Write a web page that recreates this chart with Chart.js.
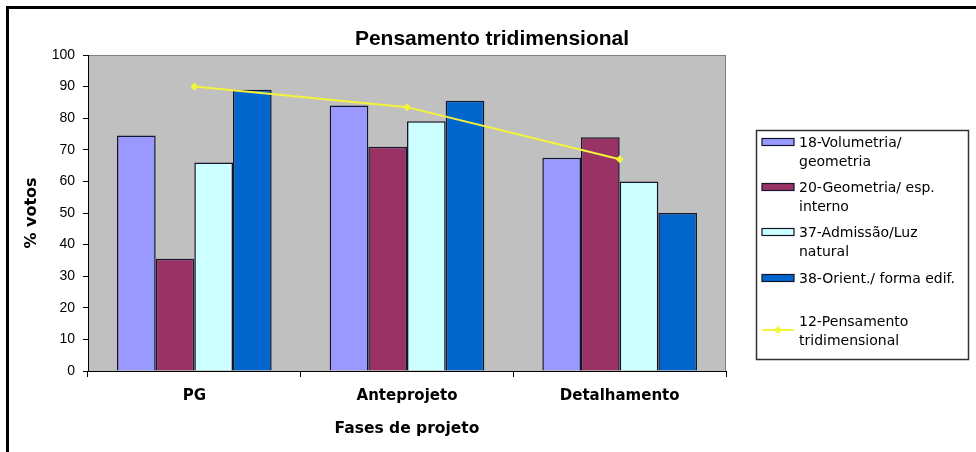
<!DOCTYPE html>
<html>
<head>
<meta charset="utf-8">
<script src="https://cdn.jsdelivr.net/npm/chart.js@4/dist/chart.umd.min.js"></script>
<style>
  html, body { margin: 0; padding: 0; background: #ffffff; }
  #wrap { width: 976px; height: 452px; position: relative; }
</style>
</head>
<body>
<div id="wrap"><canvas id="c" width="976" height="452"></canvas></div>
<script>
// Project phases on the category axis
const phases = ['PG', 'Anteprojeto', 'Detalhamento'];

// % of votes per criterion and phase
const volumetria = [74.5, 84, 67.5];
const geometriaInterno = [35.5, 71, 74];
const admissaoLuz = [66, 79, 60];
const orientForma = [89, 85.5, 50];
const pensamento = [90, 83.5, 67];

// Value axis ticks
const yTicks = [0, 10, 20, 30, 40, 50, 60, 70, 80, 90, 100];

// Legend entries, split over lines as shown in the key box
const volumetriaName = ['18-Volumetria/', 'geometria'];
const geometriaName = ['20-Geometria/ esp.', 'interno'];
const admissaoName = ['37-Admissão/Luz', 'natural'];
const orientName = ['38-Orient./ forma edif.'];
const pensamentoName = ['12-Pensamento', 'tridimensional'];

const chartTitle = 'Pensamento tridimensional';
const yTitle = '% votos';
const xTitle = 'Fases de projeto';

const barColors = ['#9999FF', '#993366', '#CCFFFF', '#0066CC'];
const lineColor = '#F4F43A';

function barSet(label, data, color) {
  return {
    type: 'bar',
    label: label.join(' '),
    data: data,
    backgroundColor: color,
    borderColor: '#15152a',
    borderWidth: 1.5,
    borderSkipped: 'bottom',
    categoryPercentage: 4 / 5.5,
    barPercentage: 1,
    order: 1
  };
}

// Frame, plot background, title and key box
const decorations = {
  id: 'decorations',
  beforeDraw(chart) {
    const { ctx, chartArea: a } = chart;
    ctx.save();
    ctx.fillStyle = '#ffffff';
    ctx.fillRect(0, 0, chart.width, chart.height);
    ctx.fillStyle = '#C0C0C0';
    ctx.fillRect(a.left, a.top, a.right - a.left, a.bottom - a.top);
    ctx.strokeStyle = '#808080';
    ctx.lineWidth = 1;
    ctx.strokeRect(a.left + 0.5, a.top + 0.5, a.right - a.left - 1, a.bottom - a.top);
    // outer frame (top and left edges)
    ctx.fillStyle = '#000000';
    ctx.fillRect(6, 6, chart.width - 6, 3);
    ctx.fillRect(6, 6, 3, chart.height - 6);
    ctx.restore();
  },
  afterDraw(chart) {
    const { ctx } = chart;
    ctx.save();
    // chart title
    ctx.fillStyle = '#000000';
    ctx.font = 'bold 21px "Liberation Sans", Arial, sans-serif';
    ctx.textAlign = 'center';
    ctx.textBaseline = 'middle';
    ctx.fillText(chartTitle, 492, 39);

    // key box
    ctx.strokeStyle = '#333333';
    ctx.lineWidth = 1.5;
    ctx.strokeRect(756.5, 130.5, 212, 229);

    const entries = [
      { lines: volumetriaName, y: 143, sw: 142 },
      { lines: geometriaName, y: 188, sw: 187 },
      { lines: admissaoName, y: 233, sw: 232 },
      { lines: orientName, y: 279, sw: 278 }
    ];
    ctx.font = '14px "DejaVu Sans", sans-serif';
    ctx.textAlign = 'left';
    entries.forEach((e, i) => {
      ctx.fillStyle = barColors[i];
      ctx.fillRect(762, e.sw - 3.5, 32, 7);
      ctx.strokeStyle = '#15152a';
      ctx.lineWidth = 1.2;
      ctx.strokeRect(762, e.sw - 3.5, 32, 7);
      ctx.fillStyle = '#000000';
      e.lines.forEach((t, k) => ctx.fillText(t, 799, e.y + k * 19));
    });
    // line entry
    ctx.strokeStyle = lineColor;
    ctx.lineWidth = 2;
    ctx.beginPath();
    ctx.moveTo(762, 330);
    ctx.lineTo(794, 330);
    ctx.stroke();
    ctx.fillStyle = lineColor;
    ctx.beginPath();
    ctx.moveTo(778, 326);
    ctx.lineTo(782, 330);
    ctx.lineTo(778, 334);
    ctx.lineTo(774, 330);
    ctx.closePath();
    ctx.fill();
    ctx.fillStyle = '#000000';
    pensamentoName.forEach((t, k) => ctx.fillText(t, 799, 322 + k * 19));
    ctx.restore();
  }
};

new Chart(document.getElementById('c'), {
  data: {
    labels: phases,
    datasets: [
      barSet(volumetriaName, volumetria, barColors[0]),
      barSet(geometriaName, geometriaInterno, barColors[1]),
      barSet(admissaoName, admissaoLuz, barColors[2]),
      barSet(orientName, orientForma, barColors[3]),
      {
        type: 'line',
        label: pensamentoName.join(' '),
        data: pensamento,
        borderColor: lineColor,
        backgroundColor: lineColor,
        borderWidth: 2,
        pointStyle: 'rectRot',
        pointRadius: 4,
        pointBorderWidth: 0,
        tension: 0,
        order: 0
      }
    ]
  },
  options: {
    responsive: false,
    animation: false,
    devicePixelRatio: 1,
    layout: { padding: { left: 0, top: 55, right: 250, bottom: 0 } },
    plugins: {
      legend: { display: false },
      title: { display: false },
      tooltip: { enabled: false }
    },
    scales: {
      x: {
        type: 'category',
        offset: true,
        grid: { offset: true, drawOnChartArea: false, drawTicks: true, tickLength: 6, color: '#000000' },
        border: { display: true, color: '#000000', width: 1 },
        ticks: {
          color: '#000000',
          padding: 10,
          font: { family: '"DejaVu Sans", sans-serif', size: 15, weight: 'bold' }
        },
        title: {
          display: true,
          text: xTitle,
          color: '#000000',
          padding: { top: 0, bottom: 14 },
          font: { family: '"DejaVu Sans", sans-serif', size: 15.5, weight: 'bold' }
        },
        afterFit(s) { s.height = 81; }
      },
      y: {
        min: 0,
        max: 100,
        afterBuildTicks(s) { s.ticks = yTicks.map(v => ({ value: v })); },
        grid: { drawOnChartArea: false, drawTicks: true, tickLength: 5, color: '#000000' },
        border: { display: true, color: '#000000', width: 1 },
        ticks: {
          color: '#000000',
          padding: 8,
          font: { family: '"Liberation Sans", Arial, sans-serif', size: 14 }
        },
        title: {
          display: true,
          text: yTitle,
          color: '#000000',
          padding: { top: 22, bottom: 0 },
          font: { family: '"DejaVu Sans", sans-serif', size: 16, weight: 'bold' }
        },
        afterFit(s) { s.width = 88; }
      }
    }
  },
  plugins: [decorations]
});
</script>
</body>
</html>
